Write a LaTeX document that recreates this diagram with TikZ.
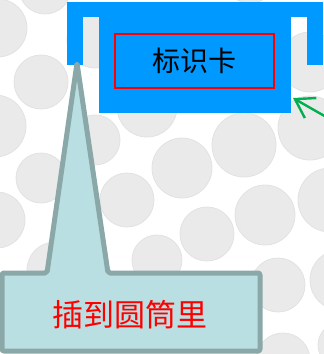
\documentclass[tikz,border=0pt]{standalone}
\usepackage{fontspec}
\newfontfamily\cjk{Noto Sans CJK SC}
\usepackage{xcolor}
\usepackage{tikz}
\usetikzlibrary{positioning,arrows.meta}

\definecolor{cardblue}{RGB}{0,153,255}
\definecolor{dotgray}{RGB}{234,234,234}
\definecolor{dotedge}{RGB}{226,226,226}
\definecolor{calloutfill}{RGB}{186,223,226}
\definecolor{calloutline}{RGB}{139,168,169}
\definecolor{arrowgreen}{RGB}{0,176,80}

\tikzset{
  dot/.style={fill=dotgray, draw=dotedge, line width=0.8pt},
  cardtext/.style={draw=red, line width=1.6pt, minimum width=159pt, minimum height=54pt, inner sep=0pt, font=\cjk\fontsize{28}{28}\selectfont},
  callouttext/.style={text=red, inner sep=0pt, font=\cjk\fontsize{31}{31}\selectfont}
}

\begin{document}
\begin{tikzpicture}[x=1pt, y=-1pt]
  \useasboundingbox (0,0) rectangle (324,354);
  \clip (0,0) rectangle (324,354);

  % background: grey discs
  \foreach \cx/\cy/\r in {-2/28/29, 45/-12/26, 250/-25/28, 95/40/28, 310/62/30,
      41/82/27, 147/107/30, -5/126/31, 95/140/25, 310/128/32, 244/145/32,
      182/168/30, 41/178/25, 127/200/27, 330/200/32, 265/215/30, -3/220/28,
      207/234/27, 55/270/28, 157/260/25, 278/285/27, 340/280/30,
      283/360/27, 340/345/22} {
    \draw[dot] (\cx,\cy) circle (\r);
  }

  % the card
  \fill[cardblue] (67,2) rectangle (323,17);
  \fill[cardblue] (67,17) rectangle (83,65);
  \fill[cardblue] (307,17) rectangle (323,65);
  \fill[cardblue] (99,17) rectangle (291,113);
  \node[cardtext] (card) at (194.5,61) {标识卡};

  % callout
  \coordinate (tip) at (77,63);
  \draw[fill=calloutfill, draw=calloutline, line width=5pt, line join=round, rounded corners=2pt]
    (2,273) -- (47,273) -- (tip) -- (108,273) -- (260,273) -- (260,351) -- (2,351) -- cycle;
  \node[callouttext] (label) at (130,315) {插到圆筒里};

  % pointer arrow
  \coordinate (arrowfrom) at (328,118);
  \coordinate (arrowto) at (293,98);
  \draw[-{Straight Barb[length=18pt, width=23pt]}, arrowgreen, line width=2.4pt] (arrowfrom) -- (arrowto);
\end{tikzpicture}
\end{document}
